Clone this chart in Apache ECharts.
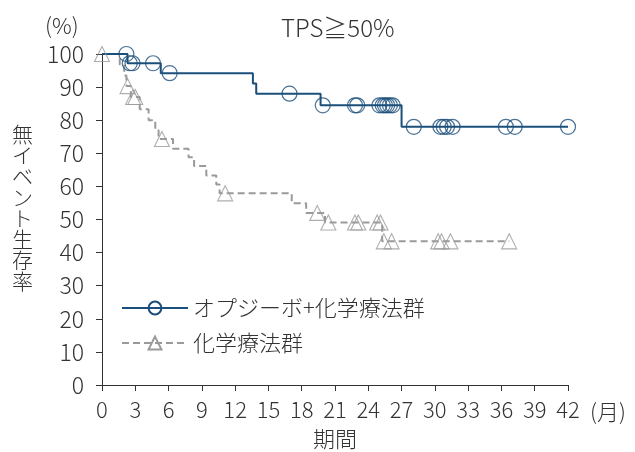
<!DOCTYPE html>
<html><head><meta charset="utf-8">
<script src="https://cdn.jsdelivr.net/npm/echarts@6/dist/echarts.min.js"></script>
<style>html,body{margin:0;padding:0;background:#fff}#c{width:635px;height:452px}</style>
</head><body><div id="c"></div>
<script>
// Step points: [month, survival %] — value changes at that month
const nivoSteps = [[0,100],[2.3,97.2],[5.3,94.2],[13.6,91.1],[13.9,88.0],[19.7,84.5],[27.0,78.0],[42.0,78.0]];
const nivoCensor = [2.2,2.5,2.75,4.6,6.1,16.9,19.9,22.8,23.0,25.0,25.3,25.5,25.7,25.95,26.2,28.1,30.5,30.8,31.1,31.6,36.4,37.2,42.0];
const chemoSteps = [[0,100],[1.6,96.8],[2.0,93.5],[2.2,90.3],[2.6,87.0],[3.4,83.3],[4.2,80.0],[4.8,77.0],[5.1,74.3],[6.4,71.4],[7.8,68.8],[8.3,66.2],[9.4,63.3],[10.3,60.6],[10.6,57.9],[17.1,54.9],[18.4,52.0],[20.1,49.1],[25.25,43.4],[36.7,43.4]];
const chemoCensor = [0,2.3,2.8,3.0,5.4,11.1,19.4,20.4,22.8,23.1,24.8,25.1,25.4,26.1,30.3,30.6,31.4,36.7];
const xTicks = [0,3,6,9,12,15,18,21,24,27,30,33,36,39,42];
const yTicks = [0,10,20,30,40,50,60,70,80,90,100];
const seriesNames = ['オプジーボ+化学療法群','化学療法群'];
const titleText = 'TPS≧50%';
const yName = '無イベント生存率';
const xName = '期間';

function survAt(steps, t){ let v = steps[0][1]; for (const [s,val] of steps){ if (s <= t) v = val; } return v; }

const FONT = '"Noto Sans CJK JP","Noto Sans",sans-serif';
const BLUE = '#1b4f7b', GRAY = '#9a9a9a', TXT = '#333', CLEAR = 'rgba(255,255,255,0)';
const chart = echarts.init(document.getElementById('c'));
chart.setOption({
  animation:false,
  textStyle:{fontFamily:FONT,fontWeight:300},
  title:{text:titleText,left:276,top:11,textStyle:{fontFamily:FONT,fontSize:24,fontWeight:300,color:TXT}},
  grid:{left:102,right:67,top:54,bottom:67,containLabel:false,outerBoundsMode:'none'},
  legend:{orient:'vertical',left:116,top:292,itemGap:13,itemWidth:66,itemHeight:16,
    data:seriesNames,textStyle:{fontFamily:FONT,fontSize:22,fontWeight:300,color:TXT,padding:[0,0,0,0]}},
  xAxis:{type:'value',min:xTicks[0],max:xTicks[xTicks.length-1],interval:3,
    name:xName,nameLocation:'middle',nameGap:43,nameTextStyle:{fontFamily:FONT,fontSize:22,fontWeight:300,color:TXT},
    axisLine:{lineStyle:{color:'#333',width:1}},axisTick:{length:6,lineStyle:{color:'#333'}},
    axisLabel:{fontSize:22,fontWeight:300,color:TXT,margin:14,fontFamily:FONT},splitLine:{show:false}},
  yAxis:{type:'value',min:yTicks[0],max:yTicks[yTicks.length-1],interval:10,
    axisLine:{show:true,lineStyle:{color:'#333',width:1}},axisTick:{show:true,length:6,lineStyle:{color:'#333'}},
    axisLabel:{fontSize:23,fontWeight:300,color:TXT,margin:18,fontFamily:FONT},splitLine:{show:false}},
  graphic:[
    {type:'text',left:45,top:15,style:{text:'(%)',font:'300 22px '+FONT,fill:TXT}},
    {type:'text',left:590,top:401,style:{text:'(月)',font:'300 22px '+FONT,fill:TXT}},
    {type:'text',left:12,top:124,style:{text:yName.split('').join('\n'),font:'300 21px '+FONT,fill:TXT,lineHeight:21,align:'center'}}
  ],
  series:[
    {name:seriesNames[0],type:'line',step:'end',data:nivoSteps,showSymbol:false,symbol:'circle',
      lineStyle:{color:BLUE,width:2},itemStyle:{color:CLEAR,borderColor:BLUE,borderWidth:1.2},z:3},
    {name:seriesNames[1],type:'line',step:'end',data:chemoSteps,showSymbol:false,symbol:'triangle',
      lineStyle:{color:GRAY,width:2,type:[7,4]},itemStyle:{color:CLEAR,borderColor:GRAY,borderWidth:1.1},z:2},
    {name:'c1',type:'scatter',data:nivoCensor.map(t=>[t,survAt(nivoSteps,t)]),symbol:'circle',symbolSize:15,
      itemStyle:{color:CLEAR,borderColor:BLUE,borderWidth:1.2},z:4},
    {name:'c2',type:'scatter',data:chemoCensor.map(t=>[t,survAt(chemoSteps,t)]),symbol:'triangle',symbolSize:15,
      itemStyle:{color:CLEAR,borderColor:GRAY,borderWidth:1.1},z:4}
  ]
});
</script></body></html>
